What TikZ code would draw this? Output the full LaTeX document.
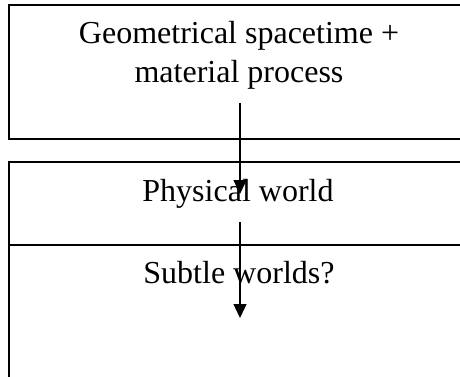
\documentclass[tikz,border=0pt]{standalone}
\usepackage{fontspec}
\setmainfont{Liberation Serif}
\usetikzlibrary{arrows.meta}
\tikzset{worldbox/.style={draw, line width=2pt, anchor=north west, inner sep=0pt, outer sep=0pt},
  worldtext/.style={anchor=base, inner sep=0pt, align=center, font=\fontsize{32}{39}\selectfont},
  flowarrow/.style={-{Triangle[length=14pt,width=13pt]}, line width=1.3pt}}

\begin{document}
\begin{tikzpicture}[x=1pt, y=-1pt]
\useasboundingbox (0,0) rectangle (460,377);
\node[worldbox, minimum width=462pt, minimum height=134pt] (geo) at (9,5) {};
\node[worldbox, minimum width=462pt, minimum height=83pt] (phys) at (9,162) {};
\node[worldbox, minimum width=462pt, minimum height=150pt] (subtle) at (phys.south west) {};
\node[worldtext] (geotxt) at (239,83) {Geometrical spacetime +\\material process};
\node[worldtext] (phystxt) at (238,201) {Physical world};
\node[worldtext] (subtletxt) at (239,283) {Subtle worlds?};
\coordinate (geoout) at (240,103);
\coordinate (physin) at (240,194);
\coordinate (physout) at (240,222);
\coordinate (subtlein) at (240,318);
\draw[flowarrow] (geoout) -- (physin);
\draw[flowarrow] (physout) -- (subtlein);
\end{tikzpicture}
\end{document}
